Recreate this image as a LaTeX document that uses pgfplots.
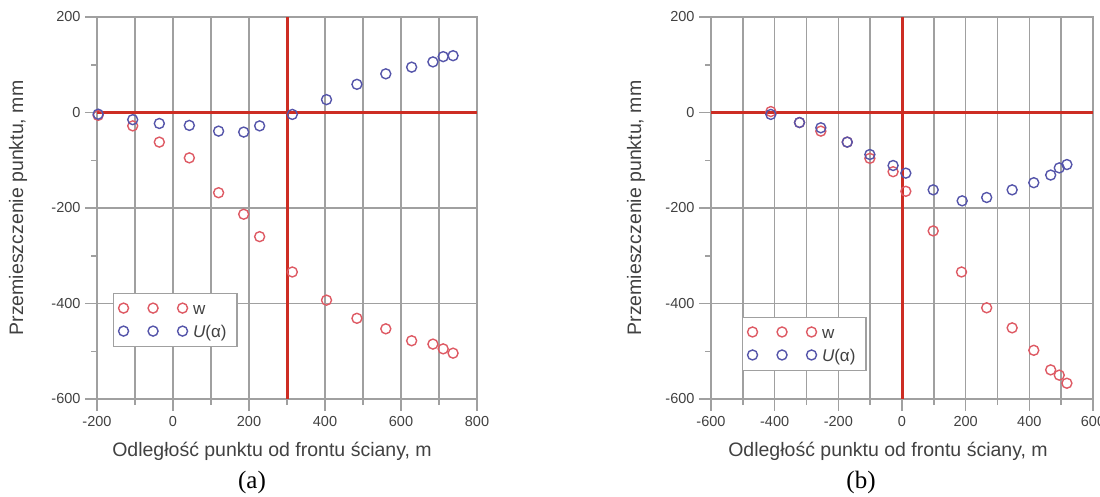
\documentclass[border=0pt]{standalone}
\usepackage{pgfplots}
\pgfplotsset{compat=1.18}
\usepackage{fontspec}
\setmainfont{Liberation Sans}
\newfontfamily\capfont{Liberation Serif}
\definecolor{wred}{RGB}{222,90,100}
\definecolor{ublue}{RGB}{85,85,170}
\definecolor{lred}{RGB}{205,45,35}
\definecolor{gridc}{RGB}{160,160,160}
\definecolor{txtc}{RGB}{65,65,65}

\pgfplotstableread{
x y
-197 -6
-106 -28
-36 -62
43 -95
120 -168
186 -213
228 -260
314 -334
404 -393
484 -431
560 -453
628 -478
684 -485
711 -495
737 -504
}\wa
\pgfplotstableread{
x y
-197 -3.5
-106 -15
-36 -23
43 -27
120 -39
186 -41
228 -28
314 -4
404 27
484 59
560 81
628 95
684 106
711 117
737 119
}\ua
\pgfplotstableread{
x y
-412 2
-322 -21
-255 -39
-172 -62
-101 -96
-28 -124
12 -165
98 -248
187 -334
266 -409
346 -451
414 -498
467 -539
494 -550
518 -567
}\wb
\pgfplotstableread{
x y
-412 -4
-322 -21
-255 -32
-172 -62
-101 -88
-28 -111
12 -127
98 -162
189 -185
266 -178
346 -162
414 -147
467 -131
494 -116
518 -109
}\ub

\pgfplotsset{
  myaxis/.style={
    scale only axis, height=382pt,
    ymin=-600, ymax=200, ytick={-600,-400,...,200},
    minor ytick={-500,-300,-100,100},
    axis line style={gridc, line width=1.5pt},
    tick style={gridc, line width=1.5pt},
    major tick length=12pt, minor tick length=6pt,
    tick align=outside, xtick pos=bottom, ytick pos=left,
    xmajorgrids, xminorgrids, ymajorgrids,
    major grid style={gridc, line width=1.5pt},
    minor grid style={gridc, line width=1.5pt},
    /pgf/number format/assume math mode=true,
    ticklabel style={font=\fontsize{14.5}{15}\selectfont, text=txtc},
    yticklabel style={xshift=-1pt},
    xticklabel style={yshift=-2pt},
    legend style={draw=gridc, line width=1.2pt, font=\fontsize{17}{18}\selectfont,
      text=txtc, inner xsep=5pt, inner ysep=3.5pt, row sep=0pt,
      nodes={inner xsep=5.5pt, inner ysep=4.5pt, text height=13pt, text depth=1pt}},
    legend cell align=left,
    legend image code/.code={\draw[only marks, mark=o] plot coordinates {(0pt,0.5pt) (29.5pt,0.5pt) (59pt,0.5pt)};},
    wst/.style={only marks, mark=o, mark size=5pt, line width=1.4pt, color=wred},
    ust/.style={only marks, mark=o, mark size=5pt, line width=1.4pt, color=ublue},
  }
}

\begin{document}
\begin{tikzpicture}
\path[use as bounding box] (0,0) rectangle (1100pt,496pt);

\begin{axis}[myaxis, at={(97pt,97pt)}, anchor=south west, width=380pt,
  xmin=-200, xmax=800, xtick={-200,0,...,800}, minor xtick={-100,100,...,700},
  legend style={at={(0.042,0.2775)}, anchor=north west}]
\addplot[lred, line width=3pt, forget plot] coordinates {(-200,0) (800,0)};
\addplot[lred, line width=3pt, forget plot] coordinates {(300,-600) (300,200)};
\addplot[wst] table[x=x,y=y] {\wa};
\addlegendentry{w}
\addplot[ust] table[x=x,y=y] {\ua};
\addlegendentry{{\itshape U}(α)}
\end{axis}

\begin{axis}[myaxis, at={(711pt,97pt)}, anchor=south west, width=382pt,
  xmin=-600, xmax=600, xtick={-600,-400,...,600}, minor xtick={-500,-300,...,500},
  legend style={at={(0.081,0.215)}, anchor=north west}]
\addplot[lred, line width=3pt, forget plot] coordinates {(-600,0) (600,0)};
\addplot[lred, line width=3pt, forget plot] coordinates {(0,-600) (0,200)};
\addplot[wst] table[x=x,y=y] {\wb};
\addlegendentry{w}
\addplot[ust] table[x=x,y=y] {\ub};
\addlegendentry{{\itshape U}(α)}
\end{axis}

\node[font=\fontsize{19.5}{20}\selectfont, text=txtc] at (272pt,45pt) {Odległość punktu od frontu ściany, m};
\node[font=\fontsize{19.5}{20}\selectfont, text=txtc] at (888pt,45pt) {Odległość punktu od frontu ściany, m};
\node[font=\fontsize{19.5}{20}\selectfont, text=txtc, rotate=90] at (18pt,288pt) {Przemieszczenie punktu, mm};
\node[font=\fontsize{19.5}{20}\selectfont, text=txtc, rotate=90] at (636pt,288pt) {Przemieszczenie punktu, mm};
\node[font=\capfont\fontsize{25}{26}\selectfont] at (252pt,14pt) {(a)};
\node[font=\capfont\fontsize{25}{26}\selectfont] at (861pt,14pt) {(b)};
\end{tikzpicture}
\end{document}
